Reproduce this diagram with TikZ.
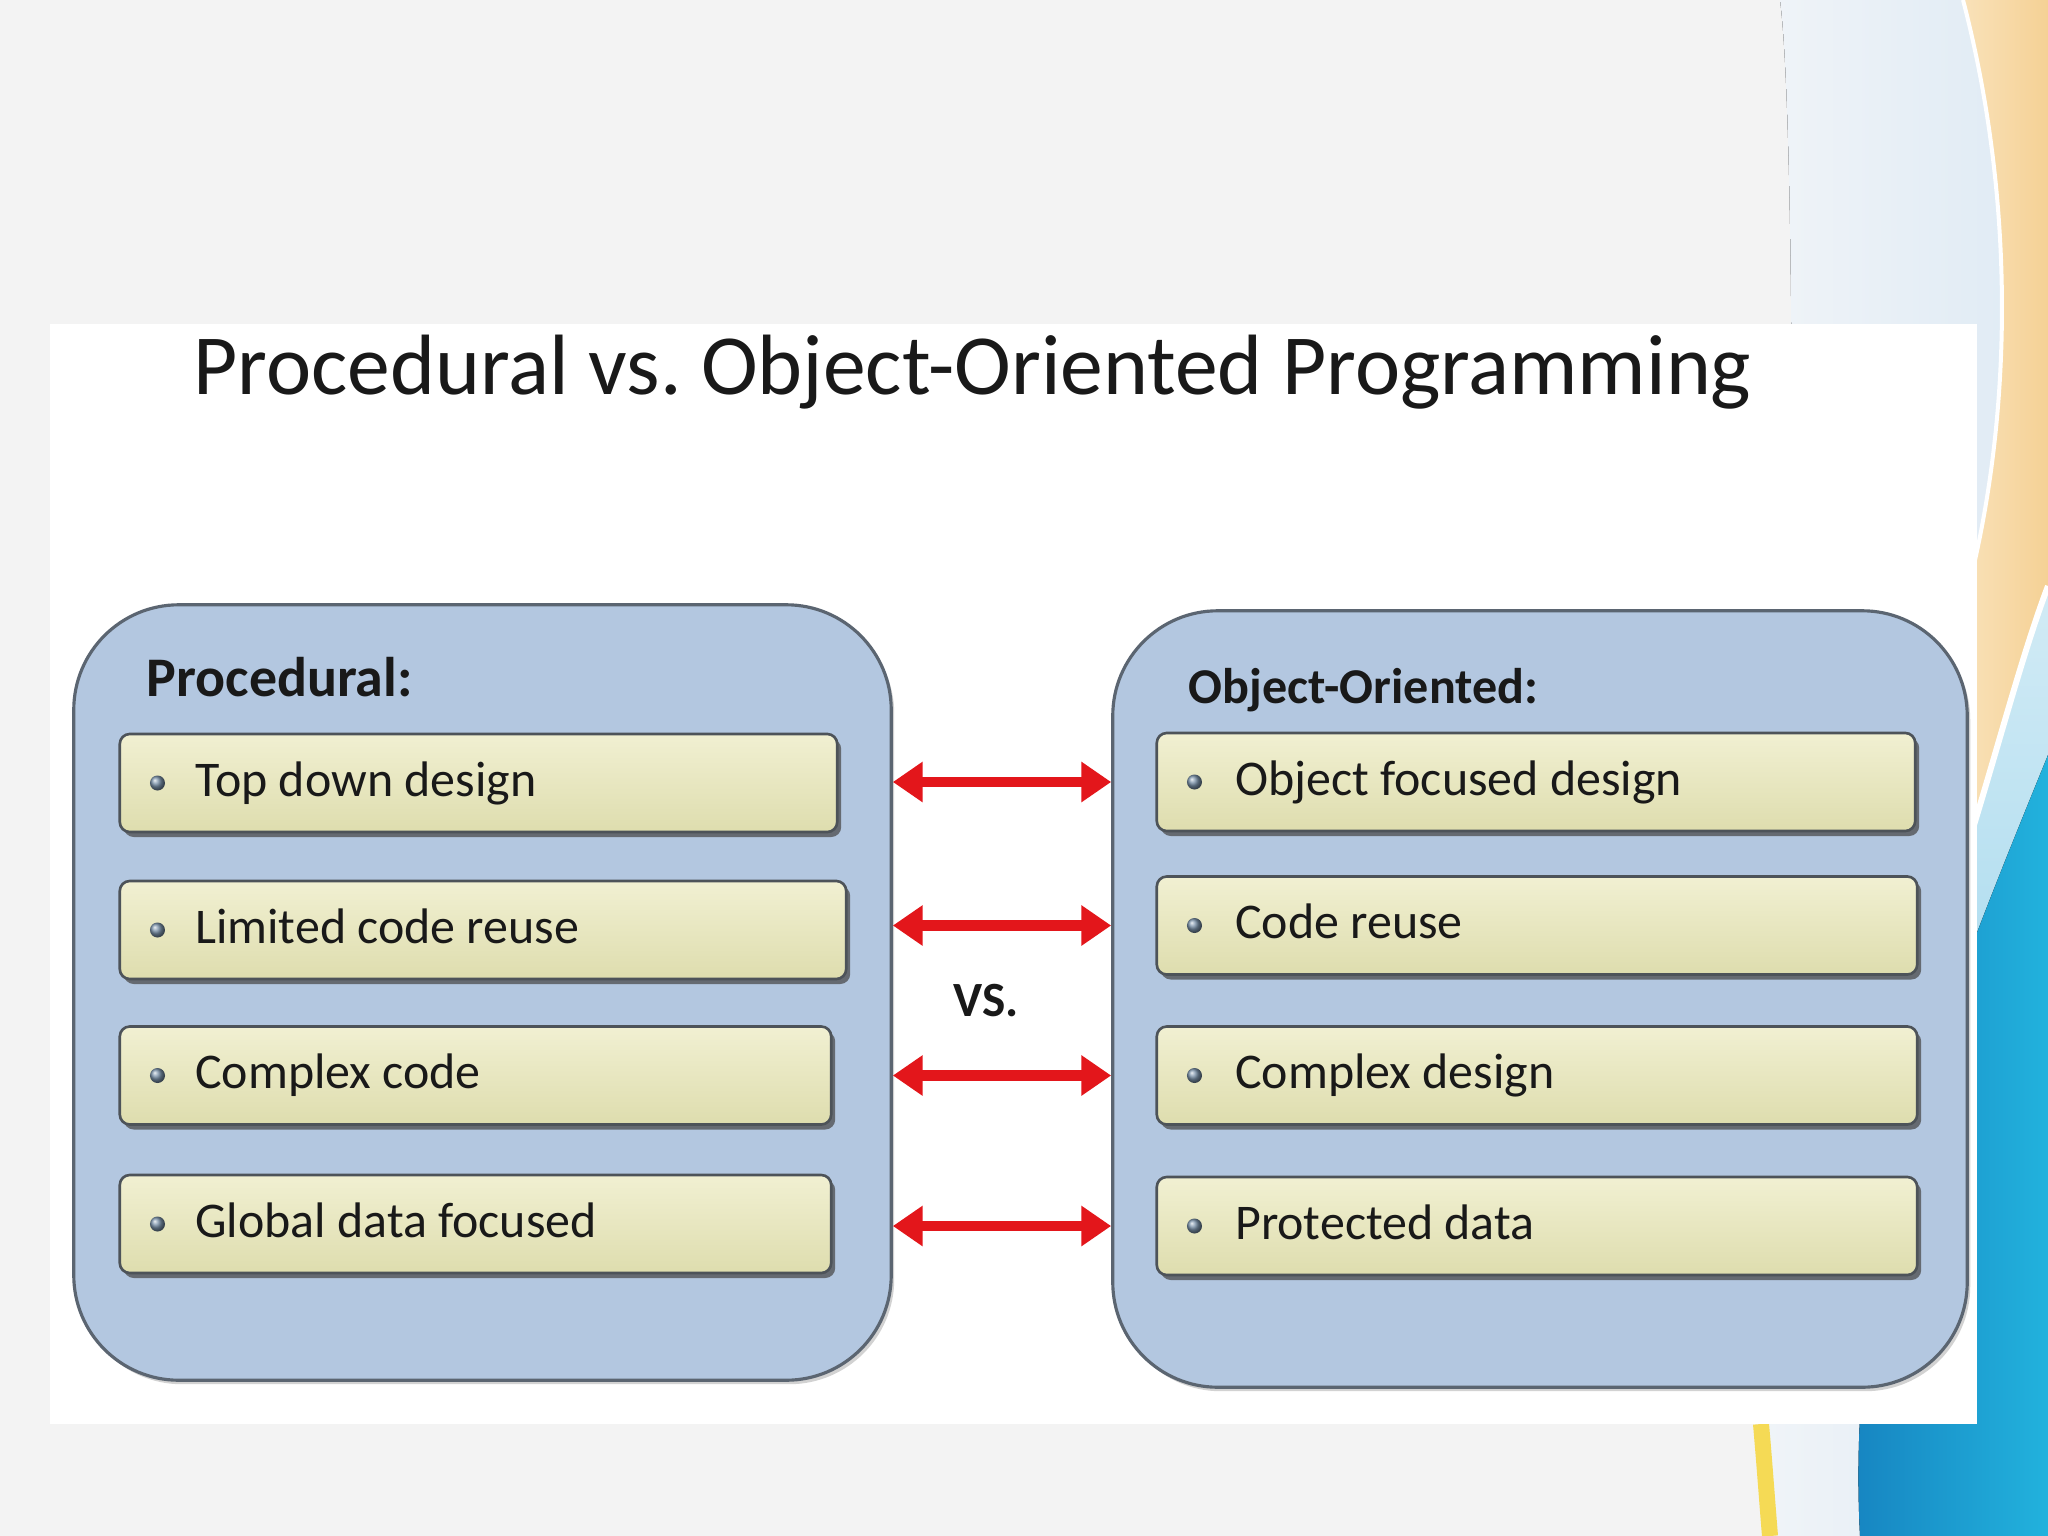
\documentclass[tikz,border=0pt]{standalone}
\usepackage{fontspec}
\setmainfont{Carlito}
\usetikzlibrary{arrows.meta,shadows}
\definecolor{bgc}{HTML}{F3F3F3}
\definecolor{paleA}{HTML}{F0F4F8}
\definecolor{paleB}{HTML}{DEEAF4}
\definecolor{orA}{HTML}{F9E2BA}
\definecolor{orB}{HTML}{F5D195}
\definecolor{ltblA}{HTML}{D2EBF5}
\definecolor{ltblB}{HTML}{A6D9EE}
\definecolor{blA}{HTML}{1683C0}
\definecolor{blB}{HTML}{22B2DD}
\definecolor{yel}{HTML}{F5DA55}
\definecolor{bigfill}{HTML}{B3C7E0}
\definecolor{boxline}{HTML}{5B6571}
\definecolor{itemtop}{HTML}{F1F0D2}
\definecolor{itembot}{HTML}{DEDDAE}
\definecolor{itemline}{HTML}{4D5359}
\definecolor{bulletc}{HTML}{7890A8}
\definecolor{arrowred}{HTML}{E3161B}
\begin{document}
\begin{tikzpicture}[x=0.01cm,y=-0.01cm,
  bigbox/.style={draw=boxline, line width=0.9pt, fill=bigfill, rounded corners=1.05cm, inner sep=0pt,
    drop shadow={shadow xshift=0.03cm, shadow yshift=-0.04cm, opacity=0.35}},
  itembox/.style={draw=itemline, line width=0.75pt, top color=itemtop, bottom color=itembot,
    rounded corners=0.1cm, minimum height=0.98cm, inner sep=0pt,
    drop shadow={shadow xshift=0.04cm, shadow yshift=-0.05cm, fill=black!70, opacity=0.75}},
  bulletdot/.style={circle, inner sep=0pt, minimum size=0.15cm, ball color=bulletc},
  itemtext/.style={font=\fontsize{14.2}{17}\selectfont, text=black!90, inner sep=0pt},
  headtext/.style={font=\bfseries\fontsize{#1}{18}\selectfont, text=black!90, inner sep=0pt},
  titletext/.style={font=\fontsize{24.35}{29}\selectfont, text=black!90, inner sep=0pt},
  arr/.style={draw=arrowred, line width=2.9pt,
    {Triangle[length=8.5pt,width=11pt]}-{Triangle[length=8.5pt,width=11pt]}}
]
\useasboundingbox (0,0) rectangle (2048,1536);
% background
\fill[bgc] (0,0) rectangle (2048,1536);
\fill[left color=paleA, right color=paleB] (1780,0) .. controls (1800,150) and (1795,1100) .. (1761,1424) -- (1770,1536) -- (2048,1536) -- (2048,0) -- cycle;
\fill[left color=orA, right color=orB] (1963,0) .. controls (2010,180) and (2015,380) .. (1975,560) -- (1960,870) .. controls (1995,760) and (2020,660) .. (2048,586) -- (2048,0) -- cycle;
\draw[white, line width=0.04cm] (1963,0) .. controls (2010,180) and (2015,380) .. (1975,560);
\fill[top color=ltblA, bottom color=ltblB] (1960,870) .. controls (1995,760) and (2020,660) .. (2048,586) -- (2048,1100) -- (1960,1100) -- cycle;
\draw[white, line width=0.06cm] (1960,870) .. controls (1995,760) and (2020,660) .. (2048,586);
\fill[left color=blA, right color=blB] (1860,1536) .. controls (1845,1250) and (1940,1020) .. (2048,755) -- (2048,1536) -- cycle;
\draw[yel, line width=0.16cm] (1761,1424) .. controls (1765,1470) and (1767,1500) .. (1770,1536);
% white panel
\fill[white] (50,324) rectangle (1977,1424);
% title
\node[titletext, anchor=base west] (title) at (193,394) {Procedural vs.\ Object-Oriented Programming};
% big boxes
\node[bigbox, minimum width=8.17cm, minimum height=7.75cm] (Lbox) at (482.5,992.5) {};
\node[bigbox, minimum width=8.54cm, minimum height=7.76cm] (Rbox) at (1540,999) {};
\node[headtext=15.9, anchor=base west] (Lhead) at (146,696) {Procedural:};
\node[headtext=14.25, anchor=base west] (Rhead) at (1188,703) {Object-Oriented:};
% left items
\node[itembox, minimum width=7.17cm] (L1) at (478.5,783) {};
\node[itembox, minimum width=7.26cm] (L2) at (483,930) {};
\node[itembox, minimum width=7.11cm] (L3) at (475.5,1075.5) {};
\node[itembox, minimum width=7.11cm] (L4) at (475.5,1224) {};
% right items
\node[itembox, minimum width=7.58cm] (R1) at (1536,782) {};
\node[itembox, minimum width=7.60cm] (R2) at (1537,925.5) {};
\node[itembox, minimum width=7.60cm] (R3) at (1537,1075.5) {};
\node[itembox, minimum width=7.60cm] (R4) at (1537,1226) {};
% bullets and texts
\foreach \n/\t in {L1/Top down design, L2/Limited code reuse, L3/Complex code, L4/Global data focused}{
  \node[bulletdot] (\n b) at ([xshift=0.39cm]\n.west) {};
  \node[itemtext, anchor=base west] (\n t) at ([xshift=0.76cm, yshift=-0.13cm]\n.west) {\t};
}
\foreach \n/\t in {R1/Object focused design, R2/Code reuse, R3/Complex design, R4/Protected data}{
  \node[bulletdot] (\n b) at ([xshift=0.39cm]\n.west) {};
  \node[itemtext, anchor=base west] (\n t) at ([xshift=0.79cm, yshift=-0.13cm]\n.west) {\t};
}
% arrows
\draw[arr] (Lbox.east |- R1) -- (Rbox.west |- R1);
\draw[arr] (Lbox.east |- R2) -- (Rbox.west |- R2);
\draw[arr] (Lbox.east |- R3) -- (Rbox.west |- R3);
\draw[arr] (Lbox.east |- R4) -- (Rbox.west |- R4);
\node[headtext=14, anchor=base west] (vs) at (953,1016) {VS.};
\end{tikzpicture}
\end{document}
